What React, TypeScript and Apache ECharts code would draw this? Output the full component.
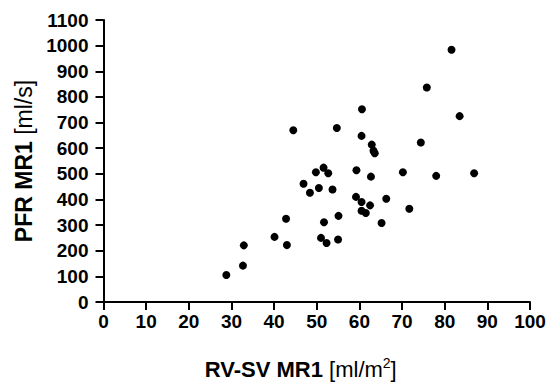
import React, { useEffect, useRef } from "react";
import * as echarts from "echarts";

const xValues = [81.6, 75.8, 60.6, 83.5, 44.5, 54.7, 60.5, 74.4, 62.9, 63.3, 63.6, 51.6, 49.8, 52.7, 59.3, 70.2, 62.7, 78.0, 86.9, 46.9, 50.5, 48.4, 53.7, 59.2, 60.5, 62.5, 66.3, 60.5, 61.5, 71.7, 42.8, 55.1, 51.7, 65.2, 40.1, 51.0, 52.3, 55.0, 32.9, 43.0, 32.7, 28.8];
const yValues = [984, 837, 752, 725, 670, 679, 648, 622, 614, 590, 580, 524, 506, 502, 514, 506, 489, 492, 502, 461, 445, 426, 439, 410, 390, 377, 403, 356, 347, 364, 325, 336, 311, 308, 254, 250, 230, 244, 221, 222, 142, 105];

const xTitleBold = "RV-SV MR1";
const xTitleUnit = " [ml/m";
const xTitleSup = "2";
const yTitleBold = "PFR MR1";
const yTitleUnit = " [ml/s]";

const FONT = "'Liberation Sans', Arial, Helvetica, sans-serif";
const TICK_LEN = 8;

export default function App() {
  const ref = useRef<HTMLDivElement>(null);
  useEffect(() => {
    if (!ref.current) return;
    const chart = echarts.init(ref.current, null, { renderer: "svg" });
    const data = xValues.map((x, i) => [x, yValues[i]]);
    const labelStyle = {
      show: true,
      color: "#000",
      fontWeight: "bold" as const,
      fontSize: 19,
      fontFamily: FONT,
      formatter: (v: number) => String(v),
    };
    chart.setOption({
      animation: false,
      backgroundColor: "#fff",
      grid: { left: 103.5, right: 21, top: 20, bottom: 81, containLabel: false },
      xAxis: {
        type: "value",
        min: 0,
        max: 100,
        interval: 10,
        axisLine: { show: true, onZero: false, lineStyle: { color: "#000", width: 2 } },
        axisTick: { show: true, length: TICK_LEN, lineStyle: { color: "#000", width: 2 } },
        splitLine: { show: false },
        axisLabel: { ...labelStyle, margin: 10 },
        name: `{b|${xTitleBold}}{n|${xTitleUnit}}{s|${xTitleSup}}{n|]}`,
        nameLocation: "middle",
        nameGap: 54,
        nameTextStyle: {
          color: "#000",
          fontFamily: FONT,
          fontSize: 22,
          padding: [0, 32, 0, 0],
          rich: {
            b: { fontWeight: "bold", fontSize: 22, fontFamily: FONT, color: "#000", lineHeight: 26 },
            n: { fontWeight: "normal", fontSize: 22, fontFamily: FONT, color: "#000", lineHeight: 26 },
            s: { fontWeight: "normal", fontSize: 14, fontFamily: FONT, color: "#000", lineHeight: 26, verticalAlign: "top", padding: [0, 0, 10, 0] },
          },
        },
      },
      yAxis: {
        type: "value",
        min: 0,
        max: 1100,
        interval: 100,
        axisLine: { show: true, onZero: false, lineStyle: { color: "#000", width: 2 } },
        axisTick: { show: true, length: TICK_LEN, lineStyle: { color: "#000", width: 2 } },
        splitLine: { show: false },
        axisLabel: { ...labelStyle, margin: 15 },
        name: `{b|${yTitleBold}}{n|${yTitleUnit}}`,
        nameLocation: "middle",
        nameGap: 65,
        nameRotate: 90,
        nameTextStyle: {
          color: "#000",
          fontFamily: FONT,
          fontSize: 23,
          rich: {
            b: { fontWeight: "bold", fontSize: 23, fontFamily: FONT, color: "#000" },
            n: { fontWeight: "normal", fontSize: 23, fontFamily: FONT, color: "#000" },
          },
        },
      },
      series: [
        {
          type: "scatter",
          data,
          symbol: "circle",
          symbolSize: 8,
          itemStyle: { color: "#000", opacity: 1 },
          z: 3,
        },
      ],
    });
    return () => chart.dispose();
  }, []);
  return <div ref={ref} style={{ width: 551, height: 385, position: "absolute", left: 0, top: 0 }} />;
}
